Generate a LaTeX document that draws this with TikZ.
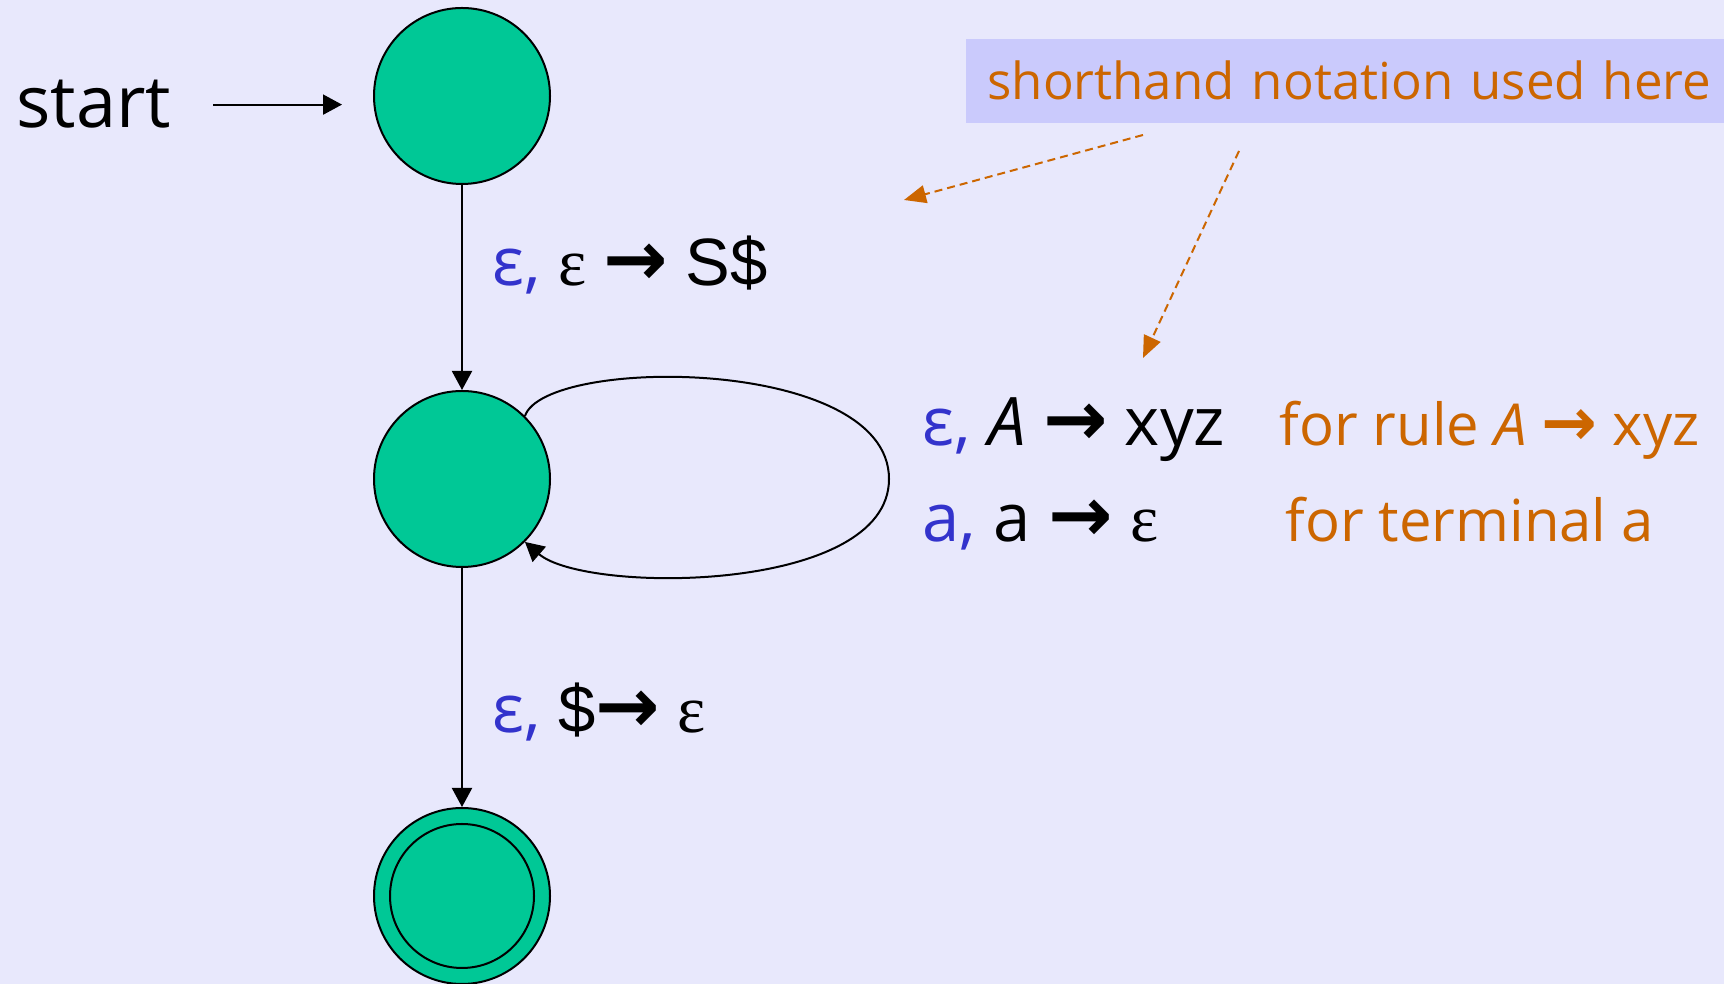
\documentclass[tikz,border=0pt]{standalone}
\usepackage{fontspec}
\setmainfont{Open Sans}
\newfontfamily\serifgr{Liberation Serif}
\newfontfamily\arialf{Liberation Sans}
\newfontfamily\arrowf{DejaVu Sans}
\usetikzlibrary{arrows.meta}
\definecolor{bgcol}{RGB}{232,232,252}
\definecolor{notecol}{RGB}{202,202,252}
\definecolor{stategreen}{RGB}{0,200,150}
\definecolor{epsblue}{RGB}{51,51,204}
\definecolor{noteorange}{RGB}{204,102,0}
\newcommand{\beps}{\textcolor{epsblue}{ε,}}
\newcommand{\seps}{{\serifgr ε}}
\newcommand{\arr}{\scalebox{1.15}{\arrowf\bfseries →}}
\begin{document}
\begin{tikzpicture}[x=0.5pt,y=0.5pt,
		state/.style={circle, draw, line width=1pt, fill=stategreen, minimum size=88pt, inner sep=0pt},
		edge/.style={line width=1pt, -{Triangle[length=9.5pt,width=10pt]}},
		hint/.style={noteorange, line width=1pt, dash pattern=on 4pt off 2.5pt, -{Triangle[length=11pt,width=9pt]}},
		lab/.style={anchor=base west, inner sep=0pt, font=\fontsize{33.5}{36}\selectfont},
		remark/.style={anchor=base west, inner sep=0pt, text=noteorange, font=\fontsize{29}{32}\selectfont}]
		\useasboundingbox (0,0) rectangle (1724,984);
		\fill[bgcol] (0,0) rectangle (1724,984);
		% states
		\node[state] (top) at (462,888) {};
		\node[state] (mid) at (462,505) {};
		\node[state] (acc) at (462,88) {};
		\node[circle, draw, line width=1pt, minimum size=72pt, inner sep=0pt] (accin) at (acc) {};
		% start arrow
		\node[anchor=base west, inner sep=0pt, font=\fontsize{36}{40}\selectfont] (start) at (16,856) {start};
		\draw[edge] ([xshift=21pt]start.east) -- ([xshift=-15.5pt]start.east -| top.west);
		% transitions
		\draw[edge] (top) -- (mid);
		\draw[edge] (mid) -- (acc);
		\coordinate (loopR) at (889,505);
		\draw[edge] (mid.45) .. controls (545,628) and (889,628) .. (loopR)
			.. controls (889,390) and (585,390) .. (mid.-45);
		\node[lab] (push) at (492,698) {\beps\ \seps\ \arr\ {\arialf S\$}};
		\node[lab] (rule) at (922,538) {\beps\ \textit{A} \arr\ xyz};
		\node[lab] (term) at (922,442) {\textcolor{epsblue}{a,} a \arr\ \seps};
		\node[lab] (pop) at (492,251) {\beps\ {\arialf\$}\arr\ \seps};
		% remarks
		\node[remark] (rulenote) at (1279,538) {for rule \textit{A} \arr\ xyz};
		\node[remark] (termnote) at (1285,442) {for terminal a};
		\node[fill=notecol, anchor=south west, minimum height=42pt, text width=372pt, inner xsep=10.5pt,
			text=noteorange, font=\fontsize{25.5}{28}\selectfont] (note) at (966,861) {shorthand notation used here};
		\coordinate (tgt1) at (904,784);
		\coordinate (tgt2) at (1143,626);
		\draw[hint] ([xshift=88.5pt,yshift=-6pt]note.south west) -- (tgt1);
		\draw[hint] ([xshift=136.5pt,yshift=-14pt]note.south west) -- (tgt2);
	\end{tikzpicture}
\end{document}
